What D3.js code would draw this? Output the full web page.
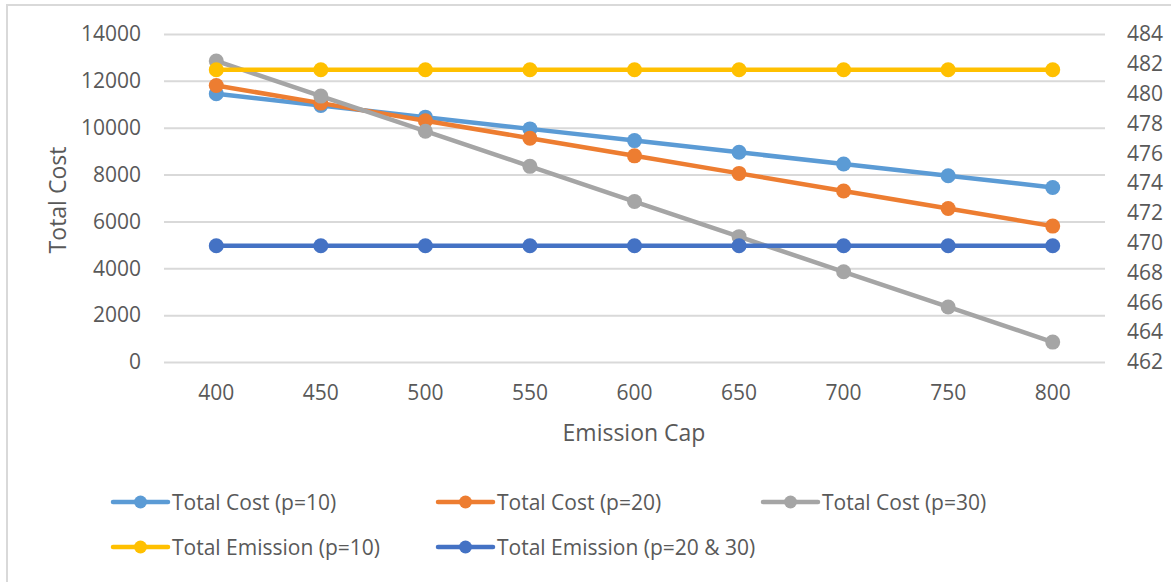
<!DOCTYPE html>
<html><head><meta charset="utf-8">
<script src="https://cdn.jsdelivr.net/npm/d3@7"></script>
<style>body{margin:0;background:#fff}svg{display:block}text{font-family:"Open Sans",sans-serif;fill:#595959}</style>
</head><body><svg id="c" width="1171" height="582"></svg>
<script>
const categories = [400, 450, 500, 550, 600, 650, 700, 750, 800];
const costP10 = [11450, 10950, 10450, 9950, 9450, 8950, 8450, 7950, 7450];
const costP20 = [11800, 11050, 10300, 9550, 8800, 8050, 7300, 6550, 5800];
const costP30 = [12850, 11350, 9850, 8350, 6850, 5350, 3850, 2350, 850];
const emissionP10 = [481.6, 481.6, 481.6, 481.6, 481.6, 481.6, 481.6, 481.6, 481.6];
const emissionP2030 = [469.8, 469.8, 469.8, 469.8, 469.8, 469.8, 469.8, 469.8, 469.8];
const leftTicks = [0, 2000, 4000, 6000, 8000, 10000, 12000, 14000];
const rightTicks = [462, 464, 466, 468, 470, 472, 474, 476, 478, 480, 482, 484];

const series = [
  {name: "Total Cost (p=10)", values: costP10, color: "#5B9BD5", axis: "L"},
  {name: "Total Cost (p=20)", values: costP20, color: "#ED7D31", axis: "L"},
  {name: "Total Cost (p=30)", values: costP30, color: "#A5A5A5", axis: "L"},
  {name: "Total Emission (p=10)", values: emissionP10, color: "#FFC000", axis: "R"},
  {name: "Total Emission (p=20 & 30)", values: emissionP2030, color: "#4472C4", axis: "R"}
];

const svg = d3.select("#c");
const L = 164, R = 1105, T = 34, B = 362;
const x = d3.scaleBand().domain(categories).range([L, R]).padding(0);
const yL = d3.scaleLinear().domain([0, 14000]).range([B, T]);
const yR = d3.scaleLinear().domain([462, 484]).range([B, T]);

// chart border
svg.append("path").attr("d", "M7,590 L7,5 L1180,5").attr("fill","none").attr("stroke","#D9D9D9").attr("stroke-width",2);

// gridlines
const gl = svg.append("g")
  .attr("transform", `translate(${L},0)`)
  .call(d3.axisLeft(yL).tickValues(leftTicks).tickSize(-(R - L)).tickFormat(""));
gl.select(".domain").remove();
gl.selectAll("line").attr("stroke", "#D9D9D9").attr("stroke-width", 2);

const FS = 21;
// left axis labels
const la = svg.append("g").attr("transform", `translate(141,0)`)
  .call(d3.axisLeft(yL).tickValues(leftTicks).tickSize(0).tickPadding(0).tickFormat(d3.format("d")));
la.select(".domain").remove();
la.selectAll("text").attr("font-size", FS).style("fill", "#595959").style("font-family", '"Open Sans",sans-serif');

// right axis labels
const ra = svg.append("g").attr("transform", `translate(1127,0)`)
  .call(d3.axisRight(yR).tickValues(rightTicks).tickSize(0).tickPadding(0).tickFormat(d3.format("d")));
ra.select(".domain").remove();
ra.selectAll("text").attr("font-size", FS).style("fill", "#595959").style("font-family", '"Open Sans",sans-serif');

// x axis labels
const xa = svg.append("g").attr("transform", `translate(0,${B})`)
  .call(d3.axisBottom(x).tickSize(0).tickPadding(23));
xa.select(".domain").remove();
xa.selectAll("text").attr("font-size", FS).style("fill", "#595959").style("font-family", '"Open Sans",sans-serif');

// axis titles
svg.append("text").attr("transform", "translate(57,200) rotate(-90)").attr("text-anchor", "middle")
  .attr("dominant-baseline", "central").attr("font-size", 23).text("Total Cost");
svg.append("text").attr("x", 634).attr("y", 432).attr("text-anchor", "middle")
  .attr("dominant-baseline", "central").attr("font-size", 23).text("Emission Cap");

// series
const cx = d => x(d) + x.bandwidth() / 2;
series.forEach(s => {
  const y = s.axis === "L" ? yL : yR;
  const pts = categories.map((c, i) => [cx(c), y(s.values[i])]);
  const g = svg.append("g");
  g.append("path").attr("d", d3.line()(pts)).attr("fill", "none")
    .attr("stroke", s.color).attr("stroke-width", 4.5).attr("stroke-linejoin", "round");
  g.selectAll("circle").data(pts).join("circle")
    .attr("cx", d => d[0]).attr("cy", d => d[1]).attr("r", 7.5).attr("fill", s.color);
});

// legend
const legPos = [[113, 502], [438, 502], [763, 502], [113, 547], [438, 547]];
series.forEach((s, i) => {
  const [lx, ly] = legPos[i];
  const g = svg.append("g");
  g.append("line").attr("x1", lx).attr("x2", lx + 55).attr("y1", ly).attr("y2", ly)
    .attr("stroke", s.color).attr("stroke-width", 4.5).attr("stroke-linecap", "round");
  g.append("circle").attr("cx", lx + 27.5).attr("cy", ly).attr("r", 6.5).attr("fill", s.color);
  g.append("text").attr("x", lx + 59).attr("y", ly).attr("dominant-baseline", "central")
    .attr("font-size", FS).text(s.name);
});
</script></body></html>
